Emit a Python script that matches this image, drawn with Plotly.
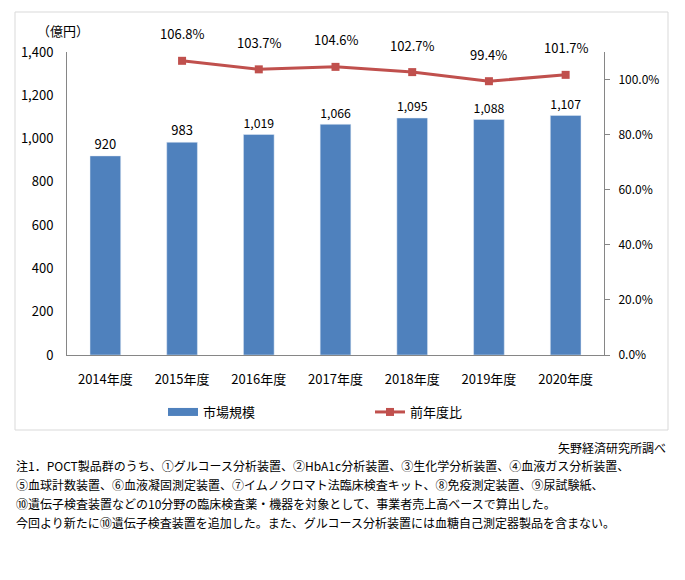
import plotly.graph_objects as go

years = ["2014年度", "2015年度", "2016年度", "2017年度", "2018年度", "2019年度", "2020年度"]
market = [920, 983, 1019, 1066, 1095, 1088, 1107]
ratio_years = ["2015年度", "2016年度", "2017年度", "2018年度", "2019年度", "2020年度"]
ratio = [1.068, 1.037, 1.046, 1.027, 0.994, 1.017]
left_ticks = [0, 200, 400, 600, 800, 1000, 1200, 1400]
right_ticks = [0, 0.2, 0.4, 0.6, 0.8, 1.0]

notes = [
    "注1．POCT製品群のうち、①グルコース分析装置、②HbA1c分析装置、③生化学分析装置、④血液ガス分析装置、",
    "⑤血球計数装置、⑥血液凝固測定装置、⑦イムノクロマト法臨床検査キット、⑧免疫測定装置、⑨尿試験紙、",
    "⑩遺伝子検査装置などの10分野の臨床検査薬・機器を対象として、事業者売上高ベースで算出した。",
    "今回より新たに⑩遺伝子検査装置を追加した。また、グルコース分析装置には血糖自己測定器製品を含まない。",
]
source = "矢野経済研究所調べ"

FONT = "Noto Sans CJK JP"
OFF = 8  # page body margin
W, H = 685 - OFF, 580 - OFF
L, R, T, B = 67 - OFF, 604 - OFF, 52 - OFF, 355 - OFF
BLUE = "#4F81BD"
RED = "#C0504D"
AXIS = "#868686"


def px(x):
    return (x - OFF - L) / (R - L)


def py(y):
    return (B - (y - OFF)) / (B - T)


fig = go.Figure()
fig.add_trace(go.Bar(
    x=years, y=market, name="市場規模", marker_color=BLUE, showlegend=False,
    text=[f"{v:,}" for v in market], textposition="outside",
    textfont=dict(size=13, color="#000000"), cliponaxis=False,
))
# legend entry for bars drawn as a wide rectangle (like the original)
fig.add_trace(go.Scatter(
    x=[None], y=[None], name="市場規模", mode="lines",
    line=dict(color=BLUE, width=8),
))
fig.add_trace(go.Scatter(
    x=ratio_years, y=ratio, name="前年度比", yaxis="y2", mode="lines+markers",
    line=dict(color=RED, width=3), marker=dict(symbol="square", size=8, color=RED),
))
for xv, yv in zip(ratio_years, ratio):
    fig.add_annotation(x=xv, y=yv, yref="y2", text=f"{yv*100:.1f}%", showarrow=False,
                       yshift=27, yanchor="middle", font=dict(size=13, color="#000000"))

fig.add_annotation(xref="paper", yref="paper", x=px(63), y=py(31), text="（億円）",
                   xanchor="center", yanchor="middle",
                   showarrow=False, font=dict(size=13, color="#000000"))
fig.add_annotation(xref="paper", yref="paper", x=px(668), y=py(447), text=source,
                   xanchor="right", yanchor="middle", showarrow=False,
                   font=dict(size=12, color="#000000"))
for i, line in enumerate(notes):
    fig.add_annotation(xref="paper", yref="paper", x=px(14), y=py(466 + 18.7 * i), text=line,
                       xanchor="left", yanchor="middle", showarrow=False,
                       font=dict(size=12, color="#000000"))

fig.add_shape(type="rect", xref="paper", yref="paper", x0=px(15), x1=px(668), y0=py(12), y1=py(430),
              line=dict(color="#D9D9D9", width=1), layer="below")

fig.update_layout(
    width=W, height=H, margin=dict(l=L, r=W - R, t=T, b=H - B),
    paper_bgcolor="white", plot_bgcolor="white",
    font=dict(family=FONT, size=12, color="#000000"),
    bargap=0.6, showlegend=True,
    legend=dict(orientation="h", x=px(163), y=py(412), xanchor="left", yanchor="middle",
                entrywidth=162, entrywidthmode="pixels", font=dict(size=13)),
    xaxis=dict(showline=True, linecolor=AXIS, ticks="", showgrid=False,
               tickfont=dict(size=13), ticklabelstandoff=12),
    yaxis=dict(range=[0, 1400], tickvals=left_ticks, ticktext=[f"{v:,}" for v in left_ticks],
               showline=True, linecolor=AXIS, showgrid=False, zeroline=False, ticks="",
               tickfont=dict(size=13), ticklabelstandoff=10),
    yaxis2=dict(range=[0, 1.1], tickvals=right_ticks, ticktext=[f"{v*100:.1f}%" for v in right_ticks],
                overlaying="y", side="right", showline=True, linecolor=AXIS, showgrid=False,
                zeroline=False, ticks="outside", ticklen=5, tickcolor=AXIS,
                tickfont=dict(size=12), ticklabelstandoff=6),
)

fig.write_html("out.html")
